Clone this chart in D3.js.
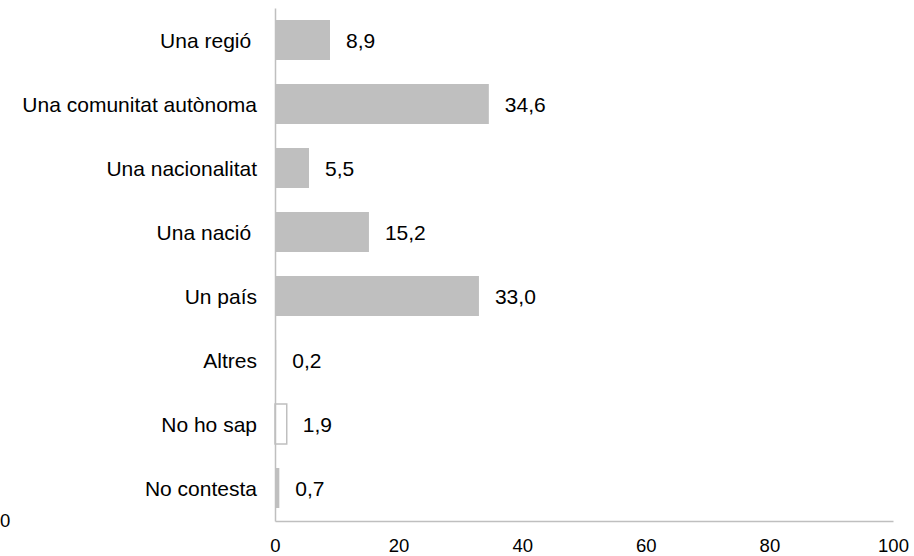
<!DOCTYPE html>
<html>
<head>
<meta charset="utf-8">
<script src="https://cdn.jsdelivr.net/npm/d3@7"></script>
<style>
  html, body { margin: 0; padding: 0; background: #fff; }
  svg { display: block; }
  text { font-family: Arial, "Liberation Sans", sans-serif; fill: #000; }
</style>
</head>
<body>
<svg id="chart" width="914" height="556"></svg>
<script>
// ---- data ----
const categories = ["Una regió ", "Una comunitat autònoma", "Una nacionalitat", "Una nació ", "Un país", "Altres", "No ho sap", "No contesta"];
const values = [8.9, 34.6, 5.5, 15.2, 33.0, 0.2, 1.9, 0.7];
const valueLabels = ["8,9", "34,6", "5,5", "15,2", "33,0", "0,2", "1,9", "0,7"];
const xTicks = [0, 20, 40, 60, 80, 100];
const strayLabel = "0";

// ---- style ----
const barColor = "#BFBFBF";
const axisColor = "#BFBFBF";
const outlinedCategory = "No ho sap";

const svg = d3.select("#chart");
const x = d3.scaleLinear().domain([0, 100]).range([275, 893]);
const y = d3.scaleBand().domain(categories).range([8, 520]).paddingInner(0.375).paddingOuter(0.1875);

const rows = categories.map((c, i) => ({ c, v: values[i], l: valueLabels[i] }));

// bars
svg.append("g").selectAll("rect").data(rows).join("rect")
  .attr("x", x(0))
  .attr("y", d => y(d.c))
  .attr("width", d => x(d.v) - x(0))
  .attr("height", y.bandwidth())
  .attr("fill", d => d.c === outlinedCategory ? "#fff" : barColor)
  .attr("stroke", d => d.c === outlinedCategory ? barColor : "none")
  .attr("stroke-width", 1.5);

// value labels
svg.append("g").selectAll("text").data(rows).join("text")
  .attr("x", d => x(d.v) + 16)
  .attr("y", d => y(d.c) + y.bandwidth() / 2)
  .attr("dy", "0.4em")
  .style("font-size", "21px")
  .text(d => d.l);

// category labels
svg.append("g").selectAll("text").data(rows).join("text")
  .attr("x", x(0) - 18)
  .attr("y", d => y(d.c) + y.bandwidth() / 2)
  .attr("dy", "0.4em")
  .attr("text-anchor", "end")
  .style("font-size", "21px")
  .style("white-space", "pre")
  .text(d => d.c);

// x axis
const xAxis = svg.append("g")
  .attr("transform", `translate(0,521)`)
  .call(d3.axisBottom(x).tickValues(xTicks).tickSize(0).tickPadding(18).tickFormat(d3.format("d")));
xAxis.select(".domain").attr("stroke", axisColor).attr("stroke-width", 1.5);
xAxis.selectAll("text").style("font-size", "18.5px").attr("font-family", null);

// y axis line
const yAxis = svg.append("g")
  .attr("transform", `translate(${x(0)},0)`)
  .call(d3.axisLeft(d3.scaleLinear().range([8, 521])).ticks(0).tickSize(0).tickFormat(""));
yAxis.select(".domain").attr("stroke", axisColor).attr("stroke-width", 1.5);

// stray label at left
svg.append("text")
  .attr("x", 0)
  .attr("y", 521)
  .attr("dy", "0.35em")
  .style("font-size", "18.5px")
  .text(strayLabel);
</script>
</body>
</html>
